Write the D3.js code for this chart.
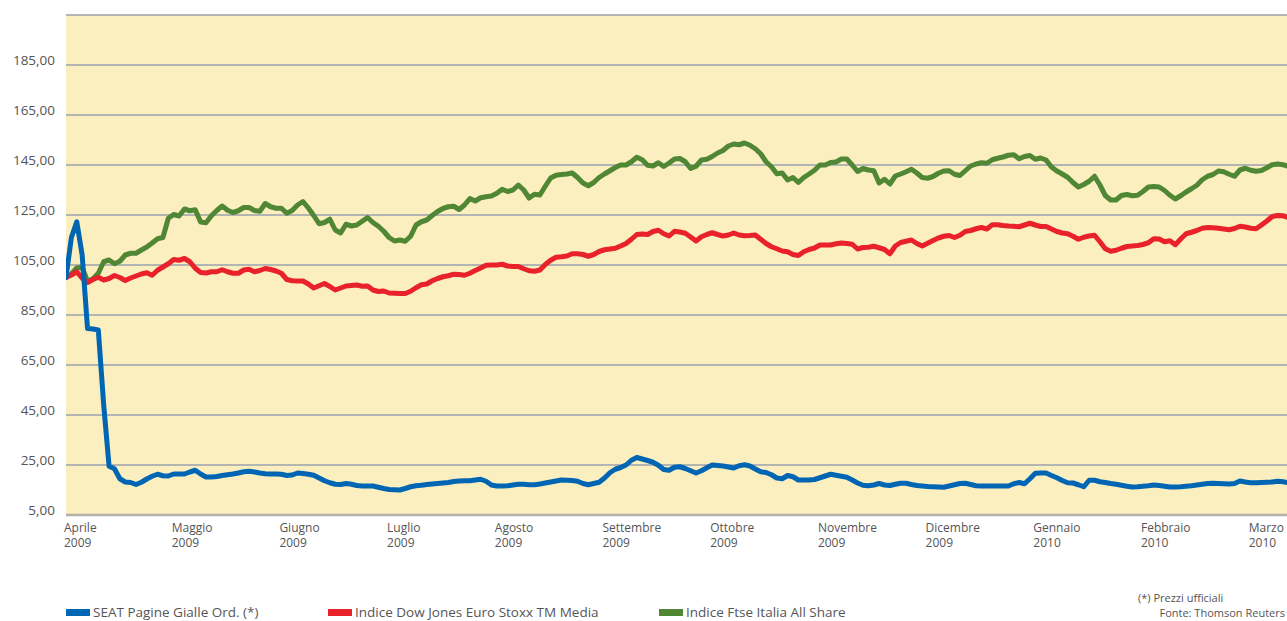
<!DOCTYPE html>
<html>
<head>
<meta charset="utf-8">
<script src="https://cdn.jsdelivr.net/npm/d3@7"></script>
<style>
  body { margin: 0; background: #fff; }
  svg { display: block; font-family: "Open Sans", "Noto Sans", sans-serif; }
</style>
</head>
<body>
<div id="chart"></div>
<script>
var width = 1287;
var height = 621;
var margin = ({top: 15, left: 66, bottom: 515});
var monthWidth = 107.7;

// month labels along the bottom
var months = ["Aprile", "Maggio", "Giugno", "Luglio", "Agosto", "Settembre", "Ottobre", "Novembre", "Dicembre", "Gennaio", "Febbraio", "Marzo"];
var years = ["2009", "2009", "2009", "2009", "2009", "2009", "2009", "2009", "2009", "2010", "2010", "2010"];

var yTicks = [5, 25, 45, 65, 85, 105, 125, 145, 165, 185];
var gridValues = [25, 45, 65, 85, 105, 125, 145, 165, 185, 205];

// one value every 0.05 month, starting 1 April 2009 (base 100)
var step = 0.05;

var seat = [100,116,122.3,109,79.6,79.4,79,49,24.5,23.5,19.5,18.2,18,17.2,18.1,19.4,20.5,21.3,20.7,20.6,
  21.4,21.4,21.4,22.2,22.9,21.4,20.2,20.2,20.4,20.8,21.1,21.4,21.8,22.3,22.5,22.2,21.8,21.5,21.4,21.4,
  21.3,20.8,21,21.8,21.6,21.3,20.9,19.8,18.7,17.9,17.3,17.2,17.6,17.3,16.8,16.6,16.6,16.6,16.1,15.6,
  15.2,15.1,15,15.6,16.3,16.7,16.9,17.2,17.4,17.6,17.8,18,18.4,18.6,18.7,18.7,19,19.3,18.5,17,
  16.6,16.6,16.7,17,17.3,17.3,17.1,17.1,17.4,17.8,18.2,18.6,19,18.9,18.8,18.5,17.6,17.1,17.6,18.1,
  19.8,21.9,23.3,24,25,26.9,28,27.4,26.8,26.1,24.9,23.2,22.9,24.1,24.3,23.6,22.7,21.8,22.7,23.9,
  25,24.8,24.6,24.2,23.8,24.7,25.1,24.6,23.4,22.3,22,21.1,19.8,19.5,20.8,20.3,19,19,19,19.2,
  19.9,20.6,21.3,20.9,20.5,20.1,19,17.8,16.9,16.7,17,17.6,17,16.8,17.3,17.7,17.7,17.2,16.8,16.6,
  16.4,16.3,16.2,16.1,16.6,17.1,17.6,17.7,17.2,16.7,16.6,16.6,16.6,16.6,16.6,16.6,17.5,18,17.5,19.5,
  21.7,21.8,21.8,20.8,19.9,18.8,17.9,17.8,17.1,16.3,18.9,18.9,18.3,18,17.6,17.3,16.9,16.5,16.2,16.3,
  16.5,16.7,17,16.8,16.5,16.2,16.2,16.3,16.5,16.7,17,17.3,17.6,17.7,17.6,17.5,17.4,17.6,18.6,18.2,
  17.9,17.9,18,18.1,18.2,18.5,18.3,17.9];

var djStoxx = [100,101,102.3,99.7,98,99.2,100.1,99,99.6,100.8,100,98.8,99.8,100.6,101.4,101.9,100.9,102.9,104.2,105.5,
  107.2,106.9,107.6,106.3,103.7,102,101.8,102.3,102.3,103.1,102.3,101.7,101.7,103,103.3,102.3,102.8,103.6,103.2,102.6,
  101.7,99.2,98.7,98.6,98.6,97.4,95.8,96.7,97.6,96.4,95,95.8,96.6,96.8,97,96.5,96.6,95,94.4,94.6,
  93.8,93.7,93.6,93.6,94.5,95.9,97.1,97.4,98.7,99.6,100.3,100.7,101.3,101.2,100.9,101.7,102.8,103.8,104.9,105,
  105,105.3,104.6,104.4,104.4,103.5,102.7,102.5,103,105.2,106.9,108.1,108.3,108.6,109.5,109.5,109.2,108.5,109.2,110.4,
  111.1,111.4,111.7,112.6,113.6,115.3,117.2,117.4,117.2,118.4,118.9,117.5,116.6,118.5,118.2,117.7,116.2,114.6,116.3,117.2,
  117.9,117.2,116.6,117,117.8,117,116.7,116.8,117,115.3,113.6,112.3,111.5,110.6,110.3,109.2,108.8,110.3,111.2,111.8,
  113,113,113,113.5,113.8,113.6,113.3,111.4,112,112.1,112.5,111.9,111.2,109.5,112.6,114,114.5,115,113.6,112.6,
  113.7,114.8,115.8,116.5,116.8,116,116.9,118.4,118.8,119.5,120,119.4,121.1,121.1,120.8,120.6,120.5,120.3,121,121.7,
  121,120.4,120.4,119.4,118.4,117.8,117.5,116.5,115.3,116.1,116.6,116.9,114.3,111.5,110.5,110.9,111.7,112.4,112.6,112.8,
  113.2,113.9,115.5,115.4,114.3,114.7,113.1,115.4,117.5,118.1,118.8,119.7,120,119.9,119.7,119.4,119.1,119.6,120.5,120.2,
  119.7,119.5,121,122.6,124.4,124.8,124.7,124];

var ftse = [100,101.5,103.8,104,98.5,99.5,101.7,106.3,107,105.5,106.5,109,109.7,109.7,111,112.2,113.8,115.5,116,123.7,
  125.2,124.6,127.4,126.7,127.1,122.2,121.9,124.7,126.8,128.6,126.9,126,126.7,128,128,126.8,126.5,129.6,128.3,127.7,
  127.7,125.7,126.8,129,130.4,127.8,124.8,121.5,122,123.3,119,117.8,121.3,120.6,121,122.5,124,122,120.5,118.5,
  116,114.6,115,114.5,116.5,121,122.3,123,124.8,126.4,127.6,128.3,128.5,127.2,129,131.6,130.6,131.9,132.3,132.6,
  133.7,135.3,134.4,135,137,135,131.8,133.3,133,136.5,139.8,140.9,141.2,141.4,141.8,140,137.8,136.7,138,140,
  141.4,142.7,144,145,145,146.3,148.1,147.1,144.9,144.6,145.9,144.4,145.8,147.4,147.6,146.3,143.6,144.5,147,147.3,
  148.4,149.8,150.8,152.6,153.4,153.1,153.8,152.9,151.5,149.5,146.3,144.3,141.5,141.8,139,140,138,140,141.4,142.9,
  145,145,146,146.2,147.4,147.4,145,142.4,143.6,143,142.7,137.8,139.3,137.4,140.6,141.4,142.3,143.3,141.8,140,
  139.7,140.4,141.7,142.6,142.7,141.3,140.8,142.7,144.6,145.4,145.9,145.7,147.1,147.7,148.2,148.9,149.1,147.5,148.4,148.8,
  147.3,147.8,147,144.2,142.6,141.4,140.1,138,136.2,137.2,138.5,140.5,137,132.8,131,131,132.8,133.2,132.7,132.9,
  134.4,136.2,136.4,136.2,134.8,132.9,131.4,132.7,134.2,135.5,136.9,139.1,140.5,141.2,142.6,142.3,141.3,140.5,143,143.7,
  142.9,142.5,142.8,143.9,145.1,145.4,145.1,144.5];

var seriesNames = ["SEAT Pagine Gialle Ord. (*)", "Indice Dow Jones Euro Stoxx TM Media", "Indice Ftse Italia All Share"];
var seriesColors = ["#0065b3", "#e8212b", "#4f8734"];
var series = [seat, djStoxx, ftse];

var x = d3.scaleLinear()
    .domain([0, 12])
    .range([margin.left, margin.left + 12 * monthWidth]);

var y = d3.scaleLinear()
    .domain([5, 205])
    .range([margin.bottom, margin.top]);

var svg = d3.select("#chart").append("svg")
    .attr("width", width)
    .attr("height", height);

// pale yellow plot area
svg.append("rect")
    .attr("x", x(0))
    .attr("y", y(205))
    .attr("width", width - x(0))
    .attr("height", y(5) - y(205))
    .attr("fill", "#fcefbf");

svg.append("g")
    .selectAll("line")
    .data(gridValues)
    .join("line")
      .attr("x1", x(0))
      .attr("x2", width)
      .attr("y1", d => y(d))
      .attr("y2", d => y(d))
      .attr("stroke", "#9aa2ad")
      .attr("stroke-width", 1.3);

// bottom baseline
svg.append("line")
    .attr("x1", x(0))
    .attr("x2", width)
    .attr("y1", y(5))
    .attr("y2", y(5))
    .attr("stroke", "#b3b0a8")
    .attr("stroke-width", 2.5);

const yAxis = g => g
    .attr("transform", `translate(55,0)`)
    .call(d3.axisLeft(y).tickValues(yTicks).tickSize(0).tickPadding(0)
      .tickFormat(d => d.toFixed(2).replace(".", ",")))
    .call(g => g.select(".domain").remove())
    .call(g => g.selectAll("text")
      .attr("dy", "-0.05em")
      .attr("fill", "#555")
      .style("font-size", "13.5px")
      .style("font-family", '"Open Sans", sans-serif'));

svg.append("g").call(yAxis);

var xLabels = svg.append("g")
    .attr("fill", "#555")
    .style("font-size", "12px")
  .selectAll("text")
  .data(months)
  .join("text")
    .attr("x", (d, i) => x(i) - 2)
    .attr("y", 532);

xLabels.append("tspan").text(d => d);
xLabels.append("tspan")
    .attr("x", (d, i) => x(i) - 2)
    .attr("dy", 15)
    .text((d, i) => years[i]);

var line = d3.line()
    .x((d, i) => x(i * step))
    .y(d => y(d));

svg.append("defs").append("clipPath")
    .attr("id", "plot")
  .append("rect")
    .attr("x", x(0))
    .attr("y", 0)
    .attr("width", width - x(0))
    .attr("height", y(5) + 2);

// green first, then red, then blue on top
svg.append("g")
    .attr("clip-path", "url(#plot)")
  .selectAll("path")
  .data([2, 1, 0])
  .join("path")
    .attr("d", i => line(series[i]))
    .attr("fill", "none")
    .attr("stroke", i => seriesColors[i])
    .attr("stroke-width", 5)
    .attr("stroke-linejoin", "round")
    .attr("stroke-linecap", "round");

// legend
var legendX = [66, 328, 659];
var legend = svg.append("g")
  .selectAll("g")
  .data(seriesNames)
  .join("g")
    .attr("transform", (d, i) => `translate(${legendX[i]},0)`);

legend.append("rect")
    .attr("y", 609)
    .attr("width", 24)
    .attr("height", 7)
    .attr("fill", (d, i) => seriesColors[i]);

legend.append("text")
    .attr("x", 27)
    .attr("y", 617)
    .attr("fill", "#555")
    .style("font-size", "13.5px")
    .text(d => d);

svg.append("text")
    .attr("x", 1138)
    .attr("y", 602)
    .attr("fill", "#555")
    .style("font-size", "11px")
    .text("(*) Prezzi ufficiali");

svg.append("text")
    .attr("x", width - 2)
    .attr("y", 617)
    .attr("text-anchor", "end")
    .attr("fill", "#555")
    .style("font-size", "11px")
    .text("Fonte: Thomson Reuters");
</script>
</body>
</html>
